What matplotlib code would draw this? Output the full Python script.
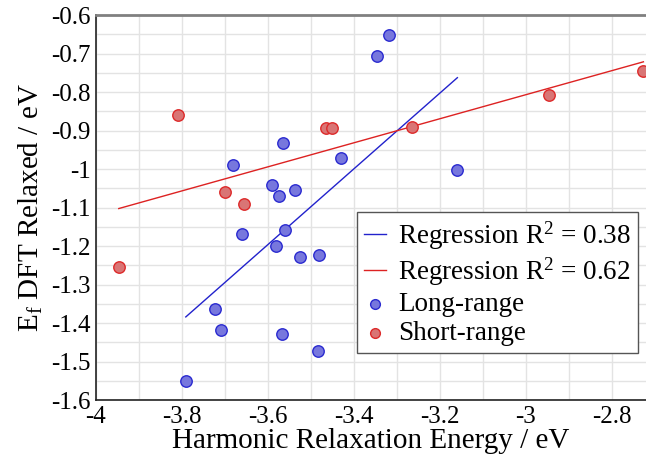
import numpy as np
import matplotlib
matplotlib.use("Agg")
import matplotlib.pyplot as plt
from matplotlib.ticker import MultipleLocator

plt.rcParams["font.family"] = "Liberation Serif"
plt.rcParams["mathtext.fontset"] = "custom"
plt.rcParams["mathtext.rm"] = "Liberation Serif"
plt.rcParams["mathtext.it"] = "Liberation Serif:italic"

# long-range defects
long_x = [-3.319, -3.346, -3.429, -3.159, -3.564, -3.681, -3.591, -3.575, -3.537, -3.660,
          -3.560, -3.581, -3.526, -3.481, -3.723, -3.710, -3.568, -3.484, -3.791]
long_y = [-0.653, -0.707, -0.971, -1.002, -0.932, -0.989, -1.042, -1.070, -1.055, -1.170,
          -1.158, -1.200, -1.228, -1.223, -1.363, -1.419, -1.429, -1.473, -1.551]

# short-range defects
short_x = [-3.810, -3.699, -3.655, -3.947, -3.464, -3.450, -3.264, -2.945, -2.726]
short_y = [-0.860, -1.061, -1.091, -1.254, -0.894, -0.894, -0.891, -0.809, -0.746]

r2_long = 0.38
r2_short = 0.62


def fit_line(x, y):
    x = np.array(x)
    slope, intercept = np.polyfit(x, y, 1)
    xs = np.array([x.min(), x.max()])
    return xs, intercept + slope * xs


fig = plt.figure(figsize=(6.46, 4.59), dpi=100)
ax = fig.add_axes([0.1486, 0.1285, 0.8514, 0.8388])

lx, ly = fit_line(long_x, long_y)
sx, sy = fit_line(short_x, short_y)
ax.plot(lx, ly, color="#2222cc", lw=1.0, label="Regression R$^\\mathregular{2}$ = %.2f" % r2_long, zorder=3)
ax.plot(sx, sy, color="#dd2222", lw=1.0, label="Regression R$^\\mathregular{2}$ = %.2f" % r2_short, zorder=3)
ax.scatter(long_x, long_y, s=68, facecolor="#7777dd", edgecolor="#2a2ad0", lw=1.0,
           label="Long-range", zorder=4)
ax.scatter(short_x, short_y, s=68, facecolor="#d97575", edgecolor="#dd2a2a", lw=1.0,
           label="Short-range", zorder=4, clip_on=False)

ax.set_xlim(-4, -2.72)
ax.set_ylim(-1.6, -0.6)
ax.xaxis.set_major_locator(MultipleLocator(0.2))
ax.xaxis.set_minor_locator(MultipleLocator(0.1))
ax.yaxis.set_major_locator(MultipleLocator(0.1))
ax.yaxis.set_minor_locator(MultipleLocator(0.05))
ax.grid(True, which="both", color="#e3e3e3", lw=1.0, zorder=0)
ax.set_axisbelow(True)
ax.tick_params(which="both", length=0, labelsize=18, pad=4)
ax.xaxis.set_major_formatter(plt.FuncFormatter(lambda v, p: "%g" % round(v, 2)))
ax.yaxis.set_major_formatter(plt.FuncFormatter(lambda v, p: "%g" % round(v, 2)))

for side in ["left", "bottom"]:
    ax.spines[side].set_color("#222222")
    ax.spines[side].set_linewidth(1.2)
ax.spines["top"].set_color("#808080")
ax.spines["top"].set_linewidth(2.0)
ax.spines["right"].set_visible(False)

ax.set_xlabel("Harmonic Relaxation Energy / eV", fontsize=21, labelpad=0)
ax.set_ylabel("E$_\\mathregular{f}$ DFT Relaxed / eV", fontsize=21, labelpad=4)

leg = ax.legend(loc="lower right", bbox_to_anchor=(0.985, 0.122), fontsize=19.5,
                frameon=True, fancybox=False, edgecolor="#555555", framealpha=1,
                handlelength=0.8, handletextpad=0.45, labelspacing=0.15,
                borderpad=0.25, borderaxespad=0, scatterpoints=1, markerscale=0.85)
leg.get_frame().set_linewidth(1.0)

fig.savefig("out.png", dpi=100)
